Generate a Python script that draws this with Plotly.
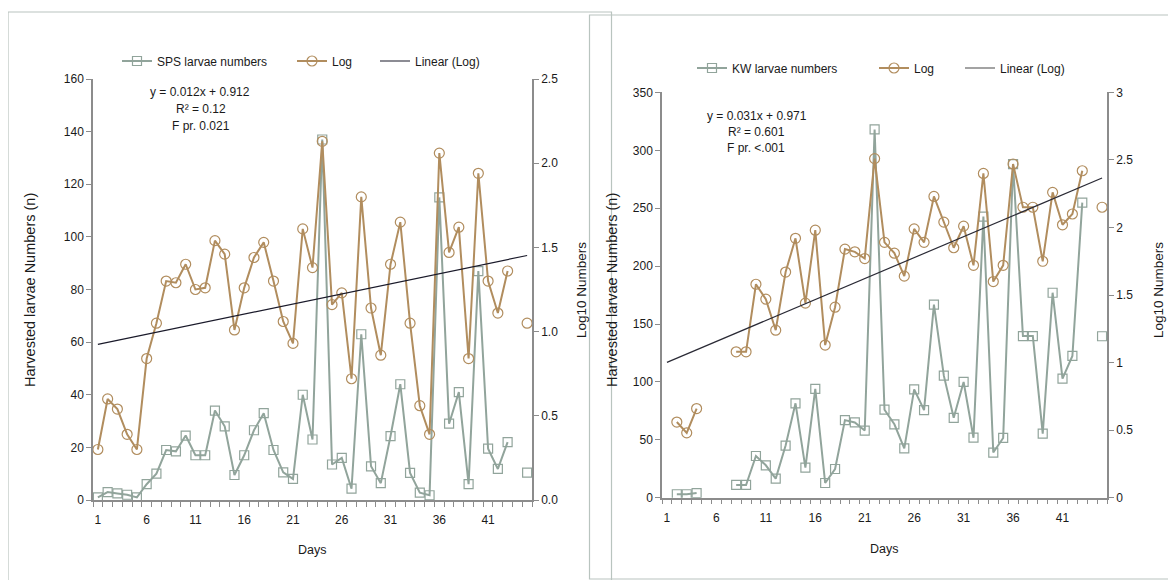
import plotly.graph_objects as go

days = list(range(1, 46))

# Left panel: SPS
sps_numbers = [1, 3, 2.5, 2, 1, 6, 10, 19, 18.5, 24.5, 17, 17, 34, 28, 9.5, 17, 26.5, 33,
               19, 10.5, 8, 40, 23, 137, 13.5, 16, 4.3, 63, 12.8, 6.4, 24.3, 44, 10.3, 2.8,
               1.8, 115, 29, 41, 6, 87, 19.5, 11.8, 22, None, 10.4]
sps_log = [0.30, 0.60, 0.54, 0.39, 0.30, 0.84, 1.05, 1.30, 1.29, 1.40, 1.25, 1.26, 1.54, 1.46,
           1.01, 1.26, 1.44, 1.53, 1.30, 1.06, 0.93, 1.61, 1.38, 2.13, 1.16, 1.23, 0.72, 1.80,
           1.14, 0.86, 1.40, 1.65, 1.05, 0.56, 0.39, 2.06, 1.47, 1.62, 0.84, 1.94, 1.30, 1.11,
           1.36, None, 1.05]
sps_slope, sps_intercept = 0.012, 0.912

# Right panel: KW
kw_numbers = [None, 3, 3, 4, None, None, None, 11, 11, 36, 28, 16.5, 45, 81.5, 26, 94, 12.7,
              24.8, 67, 65, 58, 318, 76, 63.4, 42.6, 93.6, 75.7, 166.7, 105.4, 69, 100, 51.8,
              242.7, 39, 51.6, 288, 139.6, 139.6, 55.3, 177, 102.8, 122.4, 254.8, None, 139.4]
kw_log = [None, 0.56, 0.48, 0.66, None, None, None, 1.08, 1.08, 1.58, 1.47, 1.24, 1.67, 1.92,
          1.44, 1.98, 1.13, 1.41, 1.84, 1.82, 1.77, 2.51, 1.89, 1.81, 1.64, 1.99, 1.89, 2.23,
          2.04, 1.85, 2.01, 1.72, 2.40, 1.60, 1.72, 2.47, 2.15, 2.15, 1.75, 2.26, 2.02, 2.10,
          2.42, None, 2.15]
kw_slope, kw_intercept = 0.031, 0.971

trend_x = [1, 45]
x_tick_vals = [1, 6, 11, 16, 21, 26, 31, 36, 41]

SAGE = "#91a49b"
TAN = "#b18d5e"
AXC = "#8c8c8c"
FONT = "Liberation Sans Narrow, Liberation Sans, Arial, sans-serif"
W, H = 1176, 580
OFF = 8  # page body margin


def px(x):
    return (x - OFF) / W


def py(y):
    return 1 - (y - OFF) / H


fig = go.Figure()

# Left panel traces
fig.add_trace(go.Scatter(x=days, y=sps_numbers, name="SPS larvae numbers", mode="lines+markers",
                         line=dict(color=SAGE, width=2),
                         marker=dict(symbol="square-open", size=9, color=SAGE, line=dict(width=1.2)),
                         xaxis="x", yaxis="y", legend="legend"))
fig.add_trace(go.Scatter(x=days, y=sps_log, name="Log", mode="lines+markers",
                         line=dict(color=TAN, width=2),
                         marker=dict(symbol="circle-open", size=10, color=TAN, line=dict(width=1.2)),
                         xaxis="x", yaxis="y2", legend="legend2"))
fig.add_trace(go.Scatter(x=trend_x, y=[sps_slope * t + sps_intercept for t in trend_x],
                         name="Linear (Log)", mode="lines",
                         line=dict(color="#1a1a2a", width=1.2),
                         xaxis="x", yaxis="y2", legend="legend3"))

# Right panel traces
fig.add_trace(go.Scatter(x=days, y=kw_numbers, name="KW larvae numbers", mode="lines+markers",
                         line=dict(color=SAGE, width=2),
                         marker=dict(symbol="square-open", size=9, color=SAGE, line=dict(width=1.2)),
                         xaxis="x2", yaxis="y3", legend="legend4"))
fig.add_trace(go.Scatter(x=days, y=kw_log, name="Log", mode="lines+markers",
                         line=dict(color=TAN, width=2),
                         marker=dict(symbol="circle-open", size=10, color=TAN, line=dict(width=1.2)),
                         xaxis="x2", yaxis="y4", legend="legend5"))
fig.add_trace(go.Scatter(x=trend_x, y=[kw_slope * t + kw_intercept for t in trend_x],
                         name="Linear (Log)", mode="lines", showlegend=False,
                         line=dict(color="#2a2a35", width=1.2),
                         xaxis="x2", yaxis="y4"))
# legend entry for the right-hand trendline (drawn grey in the original legend)
fig.add_trace(go.Scatter(x=[None], y=[None], name="Linear (Log)", mode="lines",
                         line=dict(color="#858585", width=1.5),
                         xaxis="x2", yaxis="y4", legend="legend6"))

tickfont = dict(family=FONT, size=12, color="#1a1a1a")

xcommon = dict(range=[0.5, 45.5], showline=True, linecolor=AXC, linewidth=1.5,
               showgrid=False, zeroline=False, tickvals=x_tick_vals, ticks="",
               tickfont=tickfont, ticklabelstandoff=8, automargin=False,
               minor=dict(tick0=0.5, dtick=1, ticks="outside", ticklen=5,
                          tickcolor=AXC, tickwidth=1, showgrid=False))
ycommon = dict(showline=True, linecolor=AXC, linewidth=1.5, showgrid=False, zeroline=False,
               ticks="outside", ticklen=5, tickcolor=AXC, tickfont=tickfont, automargin=False)


def leg(text_x, y):
    return dict(orientation="h", x=px(text_x - 41), y=py(y), xanchor="left", yanchor="middle",
                font=dict(family=FONT, size=12, color="#1a1a1a"), bgcolor="rgba(0,0,0,0)",
                itemwidth=30)


fig.update_layout(
    template="none",
    width=W, height=H, margin=dict(l=0, r=0, t=0, b=0, autoexpand=False),
    paper_bgcolor="white", plot_bgcolor="rgba(0,0,0,0)",
    font=dict(family=FONT, size=12, color="#1a1a1a"),
    showlegend=True,
    xaxis=dict(domain=[px(93), px(532)], anchor="y", **xcommon),
    yaxis=dict(domain=[py(500), py(79)], range=[0, 160], dtick=20, anchor="x", **ycommon),
    yaxis2=dict(range=[0, 2.5], dtick=0.5, tickformat=".1f", overlaying="y", side="right",
                anchor="x", **ycommon),
    xaxis2=dict(domain=[px(662), px(1107)], anchor="y3", **xcommon),
    yaxis3=dict(domain=[py(497.7), py(92.4)], range=[0, 350], dtick=50, anchor="x2", **ycommon),
    yaxis4=dict(range=[0, 3], dtick=0.5, overlaying="y3", side="right", anchor="x2", **ycommon),
    legend=leg(158, 61), legend2=leg(333, 61), legend3=leg(416, 61),
    legend4=leg(733, 68), legend5=leg(915, 68), legend6=leg(1001, 68),
)

ann = []


def text(x, y, s, angle=0, size=12):
    ann.append(dict(x=px(x), y=py(y), xref="paper", yref="paper", text=s, showarrow=False,
                    textangle=angle, xanchor="center", yanchor="middle",
                    font=dict(family=FONT, size=size, color="#1a1a1a")))


# Left panel texts
text(200, 92, "y = 0.012x + 0.912")
text(201, 109, "R² = 0.12")
text(201, 126, "F pr. 0.021")
text(30, 290, "Harvested larvae Numbers (n)", angle=-90, size=14.5)
text(581, 290, "Log10 Numbers", angle=-90, size=13.5)
text(312, 550, "Days", size=12.5)
# Right panel texts
text(757, 116, "y = 0.031x + 0.971")
text(756, 132, "R² = 0.601")
text(756, 148, "F pr. <.001")
text(612, 290, "Harvested larvae Numbers (n)", angle=-90, size=14.5)
text(1158, 290, "Log10 Numbers", angle=-90, size=13.5)
text(884, 549, "Days", size=12.5)

fig.update_layout(annotations=ann)

BORDER = "#b9c4bf"
fig.update_layout(shapes=[
    dict(type="rect", xref="paper", yref="paper", x0=px(8), x1=px(611.5), y0=py(600), y1=py(12),
         line=dict(color=BORDER, width=1.2), fillcolor="rgba(0,0,0,0)", layer="below"),
    dict(type="rect", xref="paper", yref="paper", x0=px(589.5), x1=px(1200), y0=py(579), y1=py(15),
         line=dict(color=BORDER, width=1.2), fillcolor="rgba(0,0,0,0)", layer="below"),
])

fig.write_html("out.html")
